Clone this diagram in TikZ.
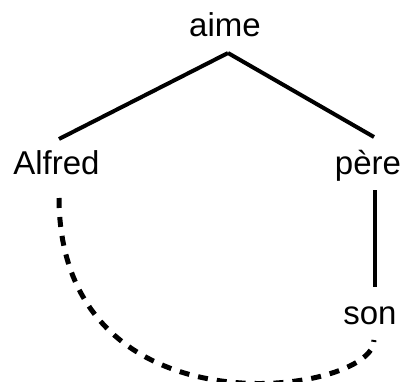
\documentclass[tikz,border=0pt]{standalone}
\usepackage{fontspec}
\setmainfont{Liberation Sans}
\begin{document}
\begin{tikzpicture}[x=1pt,y=1pt,
  word/.style={inner sep=0pt, anchor=base, font=\fontsize{33}{40}\selectfont},
  edge/.style={line width=4pt},
  coref/.style={line width=5pt, dash pattern=on 10pt off 9pt}]
\useasboundingbox (0,0) rectangle (407,381);
\node[word] (aime) at (225,344) {aime};
\node[word] (Alfred) at (56.5,207) {Alfred};
\node[word] (pere) at (368,207) {père};
\node[word] (son) at (370,57) {son};
\draw[edge] ([shift={(3,-16)}]aime.base) -- ([shift={(2.5,35)}]Alfred.base);
\draw[edge] ([shift={(3,-16)}]aime.base) -- ([shift={(6,37)}]pere.base);
\draw[edge] ([shift={(7,-16)}]pere.base) -- ([shift={(5,37)}]son.base);
\draw[coref] ([shift={(2.5,-24)}]Alfred.base) .. controls (60,-59) and (375,-14) .. ([shift={(4,-16)}]son.base);
\end{tikzpicture}
\end{document}
